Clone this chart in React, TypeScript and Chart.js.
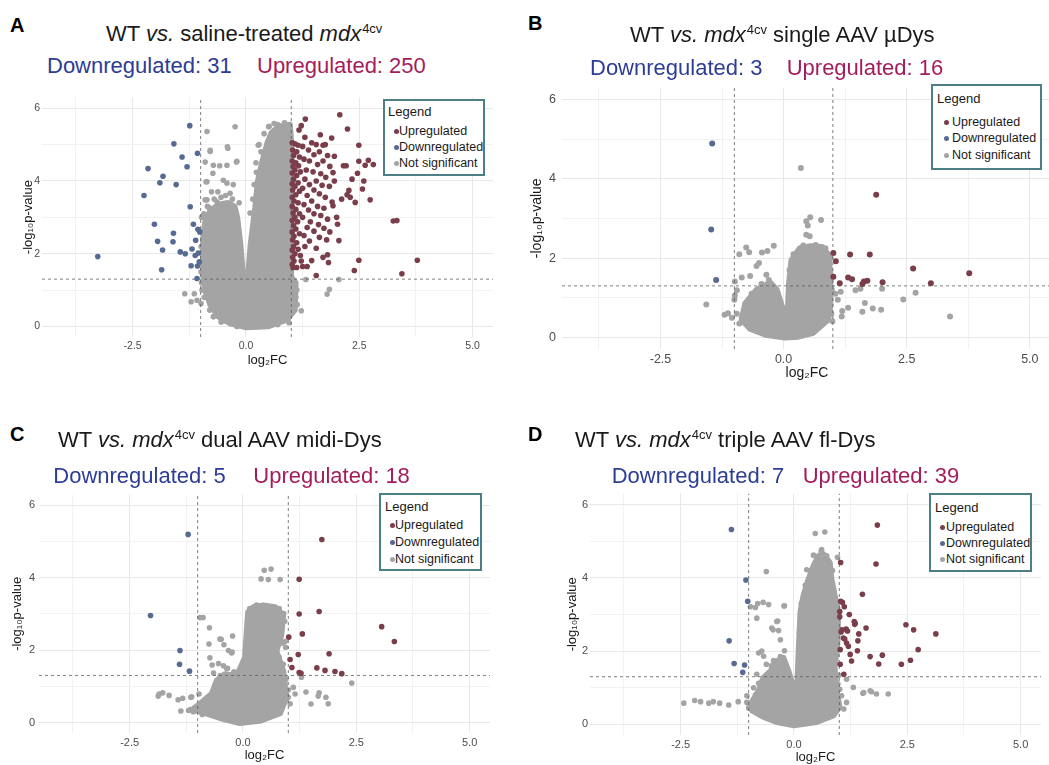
import React, { useEffect, useRef } from "react";
import { Chart, registerables } from "chart.js";

Chart.register(...registerables);

type Pt = [number, number];

// ---------- shared axis values ----------
const X_MIN = -4.5;
const X_MAX = 5.45;
const Y_MIN = -0.29;
const Y_MAX = 6.3;
const X_TICKS = [-3.75, -2.5, -1.25, 0, 1.25, 2.5, 3.75, 5];
const X_LABELED = [-2.5, 0, 2.5, 5];
const Y_TICKS = [0, 1, 2, 3, 4, 5, 6];
const Y_LABELED = [0, 2, 4, 6];
const FC_CUT = 1;
const P_CUT = 1.301;
const LEGEND_ITEMS = ["Upregulated", "Downregulated", "Not significant"];

// ---------- Panel A: WT vs saline-treated mdx4cv ----------
const A_UP: Pt[] = [
  [1.02, 5.05], [1.08, 5.02], [1.15, 4.98], [1.03, 4.85], [1.12, 4.8], [1.05, 4.7], [1.18, 4.66], [1.02, 4.55],
  [1.1, 4.5], [1.04, 4.4], [1.16, 4.42], [1.08, 4.3], [1.02, 4.22], [1.2, 4.25], [1.12, 4.15], [1.05, 4.05],
  [1.02, 3.92], [1.15, 3.95], [1.08, 3.85], [1.03, 3.75], [1.18, 3.72], [1.1, 3.62], [1.02, 3.55], [1.06, 3.45],
  [1.15, 3.4], [1.02, 3.3], [1.1, 3.22], [1.04, 3.12], [1.18, 3.1], [1.08, 3.0], [1.02, 2.92], [1.14, 2.88],
  [1.05, 2.78], [1.1, 2.68], [1.02, 2.6], [1.18, 2.55], [1.06, 2.48], [1.03, 2.38], [1.12, 2.3], [1.05, 2.2],
  [1.02, 2.1], [1.15, 2.12], [1.08, 2.0], [1.03, 1.9], [1.2, 1.95], [1.06, 1.8], [1.02, 1.7], [1.12, 1.62],
  [1.04, 1.62], [1.25, 1.65], [1.22, 1.8],
  [1.22, 5.52], [1.31, 5.7], [1.17, 5.4], [1.3, 5.2], [1.45, 5.05], [1.64, 5.27], [1.55, 5.0], [1.7, 4.98],
  [1.89, 5.18], [1.75, 5.0], [1.25, 4.95], [1.38, 4.85], [1.62, 4.8], [1.5, 4.72], [1.8, 4.7], [1.95, 4.68],
  [1.28, 4.6], [1.4, 4.55], [1.7, 4.55], [1.58, 4.45], [1.85, 4.4], [2.15, 4.42], [2.21, 4.42], [1.33, 4.3],
  [1.48, 4.25], [1.65, 4.2], [1.92, 4.23], [1.76, 4.1], [1.3, 4.05], [1.55, 4.0], [1.95, 4.0], [1.4, 3.9],
  [1.68, 3.88], [1.84, 3.85], [1.25, 3.8], [1.5, 3.75], [1.62, 3.65], [1.35, 3.6], [1.75, 3.55], [1.45, 3.45],
  [1.9, 3.42], [1.28, 3.35], [1.58, 3.3], [1.72, 3.25], [1.38, 3.2], [1.92, 3.32], [1.5, 3.1], [1.65, 3.05],
  [1.25, 3.0], [1.8, 2.95], [2.0, 3.0], [1.42, 2.88], [1.6, 2.8], [1.35, 2.72], [1.72, 2.7], [2.02, 2.81],
  [1.5, 2.62], [1.85, 2.6], [1.28, 2.5], [1.62, 2.45], [1.4, 2.35], [1.78, 2.38], [2.05, 2.36], [1.3, 2.2],
  [1.55, 2.15], [1.45, 1.81], [1.7, 1.9], [1.8, 1.97], [1.82, 1.76], [1.55, 1.4], [1.35, 1.65],
  [2.07, 5.82], [2.24, 5.43], [2.49, 4.98], [2.7, 4.57], [2.81, 4.45], [2.63, 4.43], [2.49, 4.54], [2.46, 4.21],
  [2.34, 4.05], [2.6, 4.0], [2.27, 3.74], [2.57, 3.78], [2.23, 3.62], [2.3, 3.55], [2.11, 3.5], [2.41, 3.41],
  [2.74, 3.48], [3.25, 2.9], [3.33, 2.91], [3.78, 1.82], [3.44, 1.45], [2.49, 1.82], [2.39, 1.54],
];
const A_DOWN: Pt[] = [
  [-3.27, 1.92], [-2.16, 4.34], [-2.25, 3.6], [-1.83, 4.13], [-1.9, 3.95], [-1.54, 3.9], [-2.02, 2.81],
  [-1.95, 2.34], [-1.84, 2.1], [-1.86, 1.56], [-1.6, 2.56], [-1.61, 2.33], [-1.59, 5.02], [-1.41, 4.66],
  [-1.3, 4.39], [-1.24, 5.52], [-1.07, 4.76], [-1.23, 3.29], [-1.16, 2.81], [-1.06, 2.67], [-1.02, 2.6],
  [-1.11, 2.37], [-1.19, 2.13], [-1.05, 2.02], [-1.34, 2.0], [-1.21, 1.67], [-1.07, 1.66], [-1.08, 1.32],
  [-1.03, 1.78], [-1.12, 1.95], [-1.45, 2.05],
];
const A_NS: Pt[] = [
  [-1.35, 0.9], [-1.14, 0.9], [-1.21, 0.68], [-1.08, 0.72], [-0.99, 0.63], [-0.86, 5.36], [-0.79, 4.81],
  [-0.9, 4.52], [-0.72, 4.43], [-0.58, 4.42], [-0.42, 4.43], [-0.4, 4.9], [-0.24, 5.49], [-0.2, 4.54],
  [0.27, 4.98], [0.23, 4.24], [0.5, 5.49], [0.69, 5.55], [-0.88, 3.98], [-0.86, 3.48], [-0.81, 3.26],
  [-0.79, 1.9], [-0.92, 1.4], [1.32, 1.29], [2.05, 1.29], [1.84, 1.02], [1.79, 0.89], [1.22, 0.43],
  [1.02, 0.54], [-0.72, 0.27], [-0.97, 1.0], [-0.79, 4.84], [-0.41, 4.94], [-0.21, 4.52], [-0.73, 4.21],
  [-0.86, 3.98], [-0.5, 4.02], [-0.42, 3.94], [-0.35, 3.66], [-0.9, 3.48], [-0.64, 3.43], [-0.5, 3.25],
  [-0.57, 2.97], [0.09, 3.12], [0.29, 5.0], [0.51, 5.5], [0.71, 5.54], [-0.19, 2.53], [-0.15, 2.3],
  [-0.99, 1.5], [-0.96, 2.6], [-0.98, 3.0], [1.05, 1.05], [1.1, 0.8], [0.95, 0.1], [-0.55, 0.12],
  [-0.98, 1.2], [-0.97, 1.8], [-0.99, 2.2], [-0.93, 3.1], [-0.85, 3.3], [-0.7, 3.5], [-0.55, 3.55],
  [-0.45, 3.6], [-0.3, 3.5], [-0.62, 3.7], [-0.76, 3.7], [-0.28, 3.9], [-0.15, 3.4], [0.15, 3.5],
  [0.18, 3.9], [0.22, 4.5], [0.33, 4.8], [0.4, 5.3], [0.62, 5.58], [0.85, 5.6], [0.9, 5.45], [1.05, 1.25],
  [1.12, 1.0], [1.13, 0.6], [0.7, 0.05], [-0.2, 0.0], [-0.5, 0.15], [-0.8, 0.45], [-0.92, 0.8],
];
// outline of the dense non-significant cloud
const A_CORE: Pt[] = [
  [0.01, -0.03], [-0.35, 0.08], [-0.62, 0.28], [-0.79, 0.6], [-0.9, 0.98], [-0.95, 1.5], [-0.95, 2.4],
  [-0.9, 2.9], [-0.78, 3.2], [-0.6, 3.35], [-0.4, 3.4], [-0.25, 3.3], [-0.19, 3.0], [-0.12, 2.26],
  [-0.06, 1.36], [0.01, 0.6], [0.04, 1.36], [0.1, 2.26], [0.2, 3.26], [0.26, 4.0], [0.36, 4.55],
  [0.47, 5.05], [0.56, 5.32], [0.72, 5.5], [0.97, 5.55], [1.0, 5.1], [1.0, 1.36], [1.1, 1.2],
  [1.08, 0.45], [0.9, 0.18], [0.5, 0.0],
];

// ---------- Panel B: WT vs mdx4cv single AAV µDys ----------
const B_UP: Pt[] = [
  [1.88, 3.6], [1.01, 2.13], [1.06, 1.92], [1.35, 2.09], [1.75, 2.09], [2.63, 1.74], [3.77, 1.62], [2.99, 1.37],
  [2.01, 1.39], [1.01, 1.53], [1.14, 1.37], [1.31, 1.51], [1.39, 1.47], [1.63, 1.41], [1.7, 1.43], [1.6, 1.35],
];
const B_DOWN: Pt[] = [[-1.45, 4.89], [-1.47, 2.72], [-1.37, 1.45]];
const B_NS: Pt[] = [
  [0.35, 4.27], [0.54, 3.03], [0.76, 2.96], [0.46, 2.93], [0.49, 2.82], [0.46, 2.59], [0.53, 2.55],
  [-1.57, 0.83], [-0.99, 1.41], [-0.9, 2.1], [-0.76, 2.27], [-0.7, 2.15], [-0.44, 2.14], [-0.33, 2.18],
  [-0.2, 2.31], [-0.5, 1.88], [-0.55, 1.8], [-0.35, 1.58], [-0.68, 1.55], [2.0, 1.23], [2.68, 1.13],
  [2.43, 0.96], [3.38, 0.53], [1.98, 0.7], [1.81, 0.73], [1.65, 0.87], [1.6, 0.65], [1.31, 0.75],
  [1.19, 0.67], [1.18, 0.53], [1.46, 1.19], [1.56, 1.23], [1.16, 1.15], [0.99, 0.41], [-1.13, 0.61],
  [-0.99, 1.06], [-0.95, 1.19], [-0.85, 0.49], [-0.68, 0.23], [-0.85, 1.51], [-1.2, 0.57], [-1.05, 0.5],
  [0.05, 0.3], [0.12, 1.7], [0.2, 2.1], [0.4, 2.32], [0.65, 2.33], [0.85, 2.25], [0.95, 2.0], [0.98, 1.2],
  [0.97, 0.6], [-0.3, 1.45], [-0.45, 1.35], [-0.65, 1.1], [-0.8, 0.7], [-0.9, 0.35], [-0.95, 0.6],
  [-1.0, 0.95], [1.05, 1.1], [1.1, 0.95],
];
const B_CORE: Pt[] = [
  [0.03, 0.0], [-0.34, 0.06], [-0.68, 0.22], [-0.85, 0.45], [-0.78, 0.85], [-0.55, 1.2], [-0.27, 1.38],
  [-0.14, 1.2], [-0.04, 0.8], [0.08, 0.5], [0.11, 1.35], [0.16, 1.95], [0.33, 2.25], [0.55, 2.3],
  [0.78, 2.28], [0.9, 2.1], [0.95, 1.6], [0.95, 0.8], [0.9, 0.45], [0.6, 0.12], [0.3, 0.02],
];

// ---------- Panel C: WT vs mdx4cv dual AAV midi-Dys ----------
const C_UP: Pt[] = [
  [1.74, 5.06], [1.24, 3.96], [1.24, 3.0], [1.68, 3.07], [3.06, 2.65], [3.34, 2.24], [1.01, 2.36], [1.31, 2.45],
  [1.22, 1.88], [1.9, 1.9], [1.04, 1.74], [1.08, 1.52], [1.63, 1.51], [1.81, 1.44], [2.03, 1.41], [2.18, 1.35],
  [1.24, 1.38], [1.28, 1.36],
];
const C_DOWN: Pt[] = [[-1.21, 5.2], [-2.04, 2.96], [-1.39, 1.99], [-1.4, 1.61], [-1.18, 1.42]];
const C_NS: Pt[] = [
  [0.47, 4.21], [0.62, 4.24], [0.4, 3.97], [0.56, 3.95], [0.82, 3.95], [-0.95, 2.9], [-0.88, 2.9],
  [-0.74, 2.62], [-0.75, 2.17], [-0.23, 2.39], [-0.51, 2.31], [-0.32, 1.99], [-0.24, 1.95], [-0.73, 1.79],
  [-0.68, 1.59], [-1.85, 0.79], [-1.77, 0.82], [-1.63, 0.75], [-1.87, 0.73], [-1.43, 0.63], [-1.33, 0.67],
  [-1.15, 0.7], [-0.97, 0.79], [-1.37, 0.32], [0.9, 3.01], [2.4, 1.09], [1.39, 0.84], [1.68, 0.82],
  [1.83, 0.7], [1.88, 0.52], [1.5, 0.51], [1.66, 0.73], [1.11, 0.97], [1.15, 0.79], [1.0, 0.7],
  [1.04, 0.52], [1.29, 1.25], [0.93, 2.24], [0.94, 2.08], [0.74, 1.97], [0.71, 1.7], [0.89, 1.61],
  [-0.65, 1.37], [-0.54, 1.63], [-0.43, 1.57], [-0.36, 1.49], [-0.14, 1.2], [-0.48, 2.3], [-0.42, 2.15],
  [-0.25, 1.92], [-0.34, 1.5], [-1.13, 0.71], [-1.16, 0.36], [-1.05, 0.32],
  [0.06, 2.0], [0.1, 2.8], [0.15, 3.15], [0.3, 3.25], [0.55, 3.2], [0.8, 3.15], [0.92, 2.8], [0.87, 2.2],
  [0.8, 1.8], [0.95, 1.2], [1.0, 0.9], [-0.2, 1.4], [-0.5, 1.3], [-0.62, 1.0], [-0.8, 0.65], [-1.1, 0.3],
  [-1.2, 0.33], [-0.9, 0.22],
];
const C_CORE: Pt[] = [
  [-0.07, -0.02], [-0.51, 0.12], [-0.95, 0.3], [-1.09, 0.39], [-0.95, 0.52], [-0.69, 0.8], [-0.58, 1.16],
  [-0.4, 1.34], [-0.14, 1.29], [0.04, 1.79], [0.08, 2.51], [0.11, 3.05], [0.23, 3.19], [0.45, 3.24],
  [0.71, 3.19], [0.89, 2.97], [0.85, 2.42], [0.74, 1.97], [0.89, 1.43], [0.96, 0.7], [0.82, 0.25],
  [0.37, 0.04],
];

// ---------- Panel D: WT vs mdx4cv triple AAV fl-Dys ----------
const D_UP: Pt[] = [
  [1.84, 5.44], [1.81, 4.38], [1.03, 4.42], [1.51, 3.55], [1.03, 3.36], [1.07, 3.33], [1.11, 3.21], [1.01, 3.08],
  [1.01, 2.94], [1.22, 3.0], [1.33, 2.81], [1.34, 2.73], [1.06, 2.58], [1.15, 2.6], [1.04, 2.52], [1.43, 2.47],
  [1.59, 2.63], [1.09, 2.36], [1.12, 2.33], [1.16, 2.22], [1.2, 2.13], [1.02, 2.04], [1.4, 2.01], [1.24, 1.91],
  [1.27, 1.73], [1.02, 1.64], [1.68, 1.85], [1.95, 1.89], [1.87, 1.65], [2.37, 1.64], [2.47, 2.72], [2.64, 2.58],
  [2.74, 2.04], [2.57, 1.75], [3.13, 2.47], [1.1, 1.37], [1.35, 2.76], [1.41, 2.28], [1.18, 2.55],
];
const D_DOWN: Pt[] = [[-1.38, 5.32], [-1.06, 3.94], [-1.02, 3.36], [-1.43, 2.28], [-1.32, 1.66], [-1.09, 1.62], [-1.13, 1.42]];
const D_NS: Pt[] = [
  [0.47, 5.21], [0.68, 5.25], [0.43, 4.62], [0.61, 4.77], [0.28, 4.22], [-0.61, 4.17], [0.96, 4.56],
  [0.79, 4.38], [0.47, 4.06], [-0.22, 3.23], [-0.68, 3.33], [-0.56, 3.27], [-0.96, 3.21], [-0.85, 3.19],
  [-0.82, 2.9], [-0.36, 2.82], [-0.49, 2.63], [-0.34, 2.56], [-0.3, 2.31], [-0.21, 2.01], [-0.78, 1.95],
  [-0.67, 1.86], [-0.45, 1.74], [-0.61, 1.64], [-0.38, 1.59], [-0.23, 1.64], [-0.82, 1.37], [-0.78, 1.12],
  [-1.04, 0.78], [-2.43, 0.58], [-2.19, 0.65], [-2.06, 0.62], [-1.88, 0.58], [-1.78, 0.62], [-1.64, 0.58],
  [-1.44, 0.53], [-1.23, 0.62], [-1.04, 0.6], [-0.9, 0.56], [0.99, 1.34], [1.16, 1.23], [1.31, 1.01],
  [1.01, 0.96], [1.05, 0.78], [1.16, 0.6], [1.52, 0.85], [1.71, 0.89], [1.82, 0.83], [2.08, 0.83],
  [0.9, 0.65], [0.9, 0.4], [0.98, 0.51], [1.1, 0.42], [-0.8, 3.3], [-0.21, 3.24], [-0.38, 2.81],
  [-0.46, 2.58], [-0.71, 2.0], [-0.89, 1.0], [-0.82, 0.83], [1.54, 0.87], [1.68, 0.92],
  [0.12, 2.5], [0.16, 3.3], [0.25, 3.8], [0.36, 4.2], [0.5, 4.55], [0.6, 4.72], [0.72, 4.6], [0.85, 4.2],
  [0.95, 3.3], [0.99, 2.6], [0.93, 1.9], [0.97, 1.1], [-0.3, 1.85], [-0.5, 1.6], [-0.7, 1.2], [-0.85, 0.8],
  [-1.0, 0.45], [-0.75, 0.25],
];
const D_CORE: Pt[] = [
  [0.0, -0.03], [-0.38, 0.06], [-0.67, 0.2], [-0.93, 0.38], [-0.96, 0.56], [-0.78, 0.92], [-0.67, 1.28],
  [-0.52, 1.46], [-0.38, 1.73], [-0.23, 1.82], [-0.12, 1.46], [-0.01, 1.01], [0.06, 0.74], [0.1, 2.0],
  [0.14, 3.08], [0.21, 3.53], [0.32, 3.97], [0.43, 4.33], [0.54, 4.6], [0.65, 4.65], [0.79, 4.42],
  [0.83, 3.97], [0.9, 3.53], [0.98, 3.08], [0.96, 2.18], [0.9, 1.55], [0.94, 0.92], [1.01, 0.47],
  [0.87, 0.24], [0.5, 0.06],
];

// ---------- styling ----------
const FONT = '"Liberation Sans", Arial, Helvetica, sans-serif';
const COL_UP = "#7a3e4b";
const COL_DOWN = "#566a92";
const COL_NS = "#a3a4a3";
const COL_DASH = "rgba(95,95,95,0.8)";
const GRID_MAJOR = "#e8e8e8";
const GRID_MINOR = "#f2f2f2";
const TICK_COL = "#4d4d4d";
const TXT_DOWN = "#2d3c96";
const TXT_UP = "#a51c5c";
const LEGEND_BORDER = "#4e7f86";
const AXIS_W = 42;
const AXIS_H = 40;
const PAD_T = 6;
const PAD_R = 6;

type Spec = {
  letter: string;
  title: React.ReactNode;
  down: string;
  up: string;
  upPts: Pt[];
  downPts: Pt[];
  nsPts: Pt[];
  core: Pt[];
  area: { l: number; r: number; t: number; b: number };
  tickSize: number;
  titleSize: number;
  tickPadY: number;
  yTitleGap: number;
  xTitleGap: number;
  radius: number;
  pos: {
    letter: [number, number];
    title: [number, number];
    down: [number, number];
    up: [number, number];
  };
  legend: { l: number; t: number; w: number; h: number; titleY: number; rows: number[]; titleX: number; dotX: number; textX: number };
};

const Sup = () => (
  <span style={{ fontSize: 13, position: "relative", top: -8, marginLeft: 1 }}>4cv</span>
);

const PANELS: Spec[] = [
  {
    letter: "A",
    title: (<>WT <i>vs.</i> saline-treated <i>mdx</i><Sup /></>),
    down: "Downregulated: 31",
    up: "Upregulated: 250",
    upPts: A_UP, downPts: A_DOWN, nsPts: A_NS, core: A_CORE,
    area: { l: 42, r: 493, t: 95, b: 337 },
    tickSize: 10.5, titleSize: 13, tickPadY: 2, yTitleGap: 14, xTitleGap: 23, radius: 2.8,
    pos: { letter: [10, 14.5], title: [106, 23], down: [47, 55.4], up: [257, 55.4] },
    legend: { l: 383, t: 99, w: 102, h: 77, titleY: 13, rows: [32, 48, 64], titleX: 5, dotX: 13, textX: 16 },
  },
  {
    letter: "B",
    title: (<>WT <i>vs.</i> <i>mdx</i><Sup /> single AAV µDys</>),
    down: "Downregulated: 3",
    up: "Upregulated: 16",
    upPts: B_UP, downPts: B_DOWN, nsPts: B_NS, core: B_CORE,
    area: { l: 562, r: 1052, t: 80, b: 349 },
    tickSize: 12.5, titleSize: 14, tickPadY: 6, yTitleGap: 24.5, xTitleGap: 24.5, radius: 3,
    pos: { letter: [528, 13], title: [630, 23.8], down: [590, 57.1], up: [786.7, 57.1] },
    legend: { l: 931, t: 84, w: 111, h: 86, titleY: 15, rows: [38, 54, 71], titleX: 6, dotX: 15, textX: 21 },
  },
  {
    letter: "C",
    title: (<>WT <i>vs.</i> <i>mdx</i><Sup /> dual AAV midi-Dys</>),
    down: "Downregulated: 5",
    up: "Upregulated: 18",
    upPts: C_UP, downPts: C_DOWN, nsPts: C_NS, core: C_CORE,
    area: { l: 39, r: 490, t: 490, b: 733 },
    tickSize: 11, titleSize: 13, tickPadY: 4, yTitleGap: 21.5, xTitleGap: 22.6, radius: 2.8,
    pos: { letter: [10, 424], title: [58, 429], down: [53.3, 465.4], up: [253.3, 465.4] },
    legend: { l: 379, t: 493, w: 103, h: 78, titleY: 14, rows: [32, 49, 66], titleX: 6, dotX: 13, textX: 16 },
  },
  {
    letter: "D",
    title: (<>WT <i>vs.</i> <i>mdx</i><Sup /> triple AAV fl-Dys</>),
    down: "Downregulated: 7",
    up: "Upregulated: 39",
    upPts: D_UP, downPts: D_DOWN, nsPts: D_NS, core: D_CORE,
    area: { l: 590, r: 1041, t: 491, b: 735 },
    tickSize: 11, titleSize: 13, tickPadY: 2, yTitleGap: 17.5, xTitleGap: 22, radius: 2.8,
    pos: { letter: [528, 424], title: [575, 429], down: [611.7, 465.4], up: [802.7, 465.4] },
    legend: { l: 929, t: 493, w: 103, h: 79, titleY: 15, rows: [34, 50, 66], titleX: 6, dotX: 13, textX: 17 },
  },
];

const toXY = (a: Pt[]) => a.map(([x, y]) => ({ x, y }));

function Panel({ p }: { p: Spec }) {
  const ref = useRef<HTMLCanvasElement>(null);
  const left = p.area.l - AXIS_W;
  const top = p.area.t - PAD_T;
  const width = p.area.r - p.area.l + AXIS_W + PAD_R;
  const height = p.area.b - p.area.t + PAD_T + AXIS_H;

  useEffect(() => {
    const lh = p.titleSize * 1.2;
    const corePlugin = {
      id: "coreCloud",
      beforeDatasetsDraw(chart: any) {
        const { ctx, chartArea, scales } = chart;
        ctx.save();
        ctx.beginPath();
        ctx.rect(chartArea.left, chartArea.top, chartArea.right - chartArea.left, chartArea.bottom - chartArea.top);
        ctx.clip();
        ctx.beginPath();
        p.core.forEach(([x, y], i) => {
          const px = scales.x.getPixelForValue(x);
          const py = scales.y.getPixelForValue(y);
          if (i === 0) ctx.moveTo(px, py);
          else ctx.lineTo(px, py);
        });
        ctx.closePath();
        ctx.fillStyle = COL_NS;
        ctx.strokeStyle = COL_NS;
        ctx.lineWidth = p.radius * 2;
        ctx.lineJoin = "round";
        ctx.fill();
        ctx.stroke();
        ctx.restore();
      },
    };
    const vLine = (x: number) => ({
      type: "line" as const,
      data: [{ x, y: Y_MIN }, { x, y: Y_MAX }],
      borderColor: COL_DASH,
      borderWidth: 1,
      borderDash: [3, 3],
      pointRadius: 0,
      fill: false,
      order: 5,
    });
    const chart = new Chart(ref.current as HTMLCanvasElement, {
      type: "scatter",
      data: {
        datasets: [
          { data: toXY(p.nsPts), backgroundColor: COL_NS, pointRadius: p.radius, borderWidth: 0, order: 9 },
          vLine(-FC_CUT),
          vLine(FC_CUT),
          {
            type: "line",
            data: [{ x: X_MIN, y: P_CUT }, { x: X_MAX, y: P_CUT }],
            borderColor: COL_DASH,
            borderWidth: 1,
            borderDash: [3, 3],
            pointRadius: 0,
            fill: false,
            order: 5,
          },
          { data: toXY(p.downPts), backgroundColor: COL_DOWN, pointRadius: p.radius, borderWidth: 0, order: 2 },
          { data: toXY(p.upPts), backgroundColor: COL_UP, pointRadius: p.radius, borderWidth: 0, order: 1 },
        ] as any,
      },
      options: {
        animation: false,
        responsive: false,
        devicePixelRatio: 1,
        events: [],
        layout: { padding: { left: 0, top: PAD_T, right: PAD_R, bottom: 0 } },
        plugins: { legend: { display: false }, tooltip: { enabled: false } },
        scales: {
          x: {
            type: "linear",
            min: X_MIN,
            max: X_MAX,
            afterBuildTicks: (s: any) => {
              s.ticks = X_TICKS.map((v) => ({ value: v }));
            },
            afterFit: (s: any) => {
              s.height = AXIS_H;
            },
            ticks: {
              autoSkip: false,
              maxRotation: 0,
              padding: 3,
              color: TICK_COL,
              font: { family: FONT, size: p.tickSize },
              callback: (v: any) => (X_LABELED.includes(Number(v)) ? Number(v).toFixed(1) : ""),
            },
            grid: {
              drawTicks: false,
              lineWidth: 1,
              color: (c: any) => (c.tick && X_LABELED.includes(c.tick.value) ? GRID_MAJOR : GRID_MINOR),
            },
            border: { display: false },
            title: {
              display: true,
              text: "log₂FC",
              color: "#1a1a1a",
              font: { family: FONT, size: p.titleSize },
              padding: { top: 0, bottom: AXIS_H - p.xTitleGap - lh / 2 },
            },
          },
          y: {
            type: "linear",
            min: Y_MIN,
            max: Y_MAX,
            afterBuildTicks: (s: any) => {
              s.ticks = Y_TICKS.map((v) => ({ value: v }));
            },
            afterFit: (s: any) => {
              s.width = AXIS_W;
            },
            ticks: {
              autoSkip: false,
              padding: p.tickPadY,
              color: TICK_COL,
              font: { family: FONT, size: p.tickSize },
              callback: (v: any) => (Y_LABELED.includes(Number(v)) ? String(v) : ""),
            },
            grid: {
              drawTicks: false,
              lineWidth: 1,
              color: (c: any) => (c.tick && Y_LABELED.includes(c.tick.value) ? GRID_MAJOR : GRID_MINOR),
            },
            border: { display: false },
            title: {
              display: true,
              text: "-log₁₀p-value",
              color: "#1a1a1a",
              font: { family: FONT, size: p.titleSize },
              padding: { top: AXIS_W - p.yTitleGap - lh / 2, bottom: 0 },
            },
          },
        },
      } as any,
      plugins: [corePlugin],
    });
    return () => chart.destroy();
  }, [p]);

  const abs = (x: number, y: number, extra: React.CSSProperties = {}): React.CSSProperties => ({
    position: "absolute",
    left: x,
    top: y,
    whiteSpace: "nowrap",
    ...extra,
  });
  const lg = p.legend;
  const legendColors = [COL_UP, COL_DOWN, COL_NS];

  return (
    <>
      <canvas ref={ref} width={width} height={height} style={{ position: "absolute", left, top, width, height }} />
      <div style={abs(p.pos.letter[0], p.pos.letter[1], { fontSize: 20, lineHeight: "20px", fontWeight: 700, color: "#000" })}>
        {p.letter}
      </div>
      <div style={abs(p.pos.title[0], p.pos.title[1], { fontSize: 22, lineHeight: "22px", color: "#1a1a1a" })}>{p.title}</div>
      <div style={abs(p.pos.down[0], p.pos.down[1], { fontSize: 22, lineHeight: "22px", color: TXT_DOWN })}>{p.down}</div>
      <div style={abs(p.pos.up[0], p.pos.up[1], { fontSize: 22, lineHeight: "22px", color: TXT_UP })}>{p.up}</div>
      <div
        style={abs(lg.l, lg.t, {
          width: lg.w,
          height: lg.h,
          boxSizing: "border-box",
          border: `2px solid ${LEGEND_BORDER}`,
          background: "#fff",
        })}
      >
        <div style={abs(lg.titleX - 2, lg.titleY - 2 - 8, { fontSize: 13, lineHeight: "16px", color: "#1a1a1a" })}>Legend</div>
        {LEGEND_ITEMS.map((t, i) => (
          <React.Fragment key={t}>
            <div
              style={abs(lg.dotX - 2 - 2.5, lg.rows[i] - 2 - 2.5, {
                width: 5,
                height: 5,
                borderRadius: "50%",
                background: legendColors[i],
              })}
            />
            <div style={abs(lg.textX - 2, lg.rows[i] - 2 - 8, { fontSize: 12.5, lineHeight: "16px", color: "#1a1a1a" })}>{t}</div>
          </React.Fragment>
        ))}
      </div>
    </>
  );
}

export default function App() {
  return (
    <div
      style={{
        position: "absolute",
        left: 0,
        top: 0,
        width: 1049,
        height: 765,
        overflow: "hidden",
        background: "#fff",
        fontFamily: FONT,
      }}
    >
      {PANELS.map((p) => (
        <Panel key={p.letter} p={p} />
      ))}
    </div>
  );
}
